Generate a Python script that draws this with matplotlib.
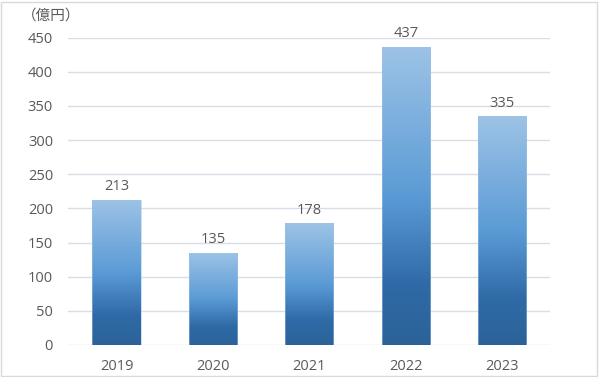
import numpy as np
import matplotlib
matplotlib.use("Agg")
import matplotlib.pyplot as plt
from matplotlib.colors import LinearSegmentedColormap
from matplotlib.patches import Rectangle

plt.rcParams['font.family'] = ['Open Sans', 'Noto Sans CJK JP', 'DejaVu Sans']

years = ["2019", "2020", "2021", "2022", "2023"]
values = [213, 135, 178, 437, 335]
yticks = [0, 50, 100, 150, 200, 250, 300, 350, 400, 450]
unit_label = "（億円）"

text_col = "#595959"
grad = LinearSegmentedColormap.from_list(
    "bar", [(0.0, "#2c6299"), (0.2, "#2f6aa6"), (0.5, "#5b9bd5"), (1.0, "#9dc3e6")])

fig = plt.figure(figsize=(5.99, 3.77), dpi=100)
ax = fig.add_axes([0.114, 0.085, 0.805, 0.815])

x = np.arange(len(years))
bars = ax.bar(x, values, width=0.5, color="none", edgecolor="none", zorder=2)

# vertical gradient fill, clipped to each bar
g = np.linspace(0, 1, 256).reshape(-1, 1)
for b, v in zip(bars, values):
    x0 = b.get_x()
    im = ax.imshow(g, cmap=grad, origin="lower", aspect="auto",
                   extent=[x0, x0 + b.get_width(), 0, v], zorder=2)
    im.set_clip_path(b)
    ax.add_patch(Rectangle((x0, 0), b.get_width(), v, fill=False,
                           edgecolor="#9dc3e6", linewidth=0.6, alpha=0.6, zorder=3))
    ax.text(b.get_x() + b.get_width() / 2, v + 8, str(v), ha="center", va="bottom",
            fontsize=10.5, color=text_col)

ax.set_xlim(-0.5, len(years) - 0.5)
ax.set_ylim(0, 450)
ax.set_yticks(yticks)
ax.set_xticks(x)
ax.set_xticklabels(years)
ax.yaxis.grid(True, color="#dadde5", linewidth=1.0, zorder=0)
ax.set_axisbelow(True)
for s in ax.spines.values():
    s.set_visible(False)
ax.tick_params(length=0, labelsize=10.5, labelcolor=text_col)
ax.tick_params(axis="y", pad=11)
ax.tick_params(axis="x", pad=10)

fig.text(0.085, 0.958, unit_label, ha="center", va="center", fontsize=10.5, color=text_col)

fig.patches.append(Rectangle((0.002, 0.003), 0.995, 0.993, transform=fig.transFigure,
                             fill=False, edgecolor="#d9d9d9", linewidth=1.0))

fig.savefig("out.png", dpi=100)
